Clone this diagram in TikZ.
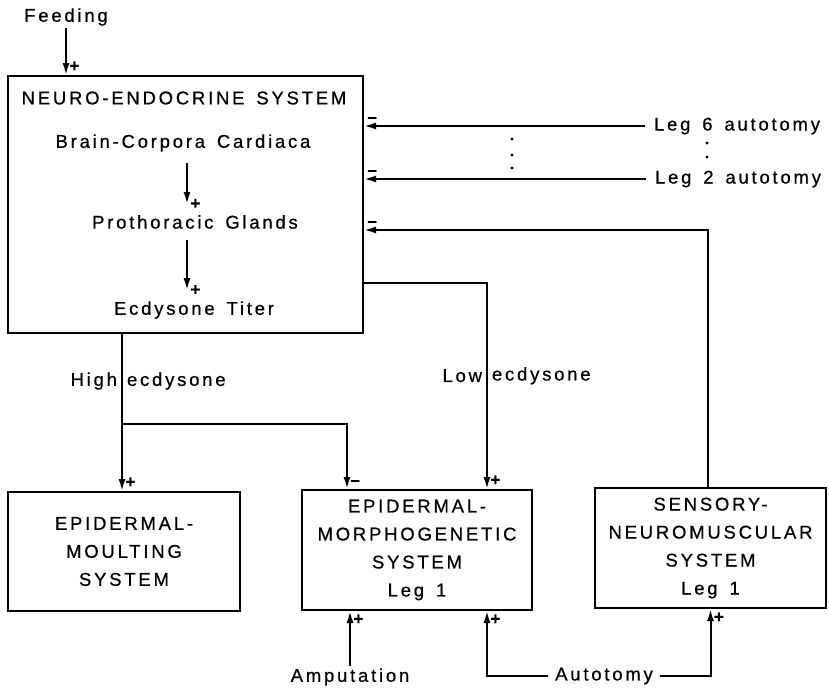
\documentclass[tikz,border=0pt]{standalone}
\usepackage{fontspec}
\setmainfont{Liberation Sans}[LetterSpace=15, WordSpace=1.5, FakeBold=0.6]
\usetikzlibrary{arrows.meta,positioning}
\tikzset{
  every node/.style={font=\fontsize{18.5}{28}\selectfont, inner sep=2pt},
  sysbox/.style={draw, line width=2pt, align=center, minimum width=231pt, minimum height=120pt},
  stage/.style={inner ysep=11pt},
  lbl/.style={inner xsep=4pt},
  arr/.style={-{Latex[length=12pt,width=7pt]}, line width=2pt},
  pm/.style={font=\fontsize{17}{17}\selectfont\bfseries, inner sep=2.5pt},
}

\begin{document}
\begin{tikzpicture}[x=1pt, y=-1pt]
\useasboundingbox (0,0) rectangle (829,689);

% neuro-endocrine system
\node[draw, line width=2pt, minimum width=355pt, minimum height=257pt] (nes) at (185.5,204.5) {};
\node (feed) at (66,17) {Feeding};
\node (title) at (184,98) {NEURO-ENDOCRINE SYSTEM};
\node[stage] (bcc) at (183,143) {Brain-Corpora Cardiaca};
\node[stage] (ptg) at (195,222) {Prothoracic Glands};
\node[stage] (ecd) at (194,310) {Ecdysone Titer};
\coordinate (axis) at (187,0);

% leg inputs
\node[inner xsep=9pt] (leg6) at (737,126) {Leg 6 autotomy};
\node[inner xsep=9pt] (leg2) at (738,179) {Leg 2 autotomy};

% target systems
\node[sysbox, minimum width=232pt, minimum height=119pt] (moult) at (124,551.5) {EPIDERMAL-\\MOULTING\\SYSTEM};
\node[sysbox, minimum width=230pt] (morph) at (417,550) {EPIDERMAL-\\MORPHOGENETIC\\SYSTEM\\Leg 1};
\node[sysbox] (sens) at (710.5,548) {SENSORY-\\NEUROMUSCULAR\\SYSTEM\\Leg 1};

\node (amp) at (350,677) {Amputation};
\node[inner xsep=7pt] (auto) at (604,676) {Autotomy};

\coordinate (fb) at (708,230);
\coordinate (lowx) at (487,283);
\coordinate (hi) at (122,424);

% connectors
\draw[arr] (feed) -- (feed |- nes.north) node[pm, anchor=south west] {+};
\draw[arr] (bcc.south -| axis) -- (ptg.north -| axis) node[pm, anchor=west] {+};
\draw[arr] (ptg.south -| axis) -- (ecd.north -| axis) node[pm, anchor=west] {+};

\draw[arr] (leg6) -- (leg6 -| nes.east) node[pm, anchor=south west] {\textendash};
\draw[arr] (leg2) -- (leg2 -| nes.east) node[pm, anchor=south west] {\textendash};
\draw[arr] (sens.north -| fb) -- (fb) -- (fb -| nes.east) node[pm, anchor=south west] {\textendash};
\foreach \y in {139,155,168} \fill (512,\y) circle (1.6pt);
\foreach \y in {143,157} \fill (707,\y) circle (1.6pt);

\draw[arr] (nes.south -| hi) -- node[lbl, pos=0.3, anchor=east] {High} node[lbl, pos=0.3, anchor=west] {ecdysone}
  (moult.north -| hi) node[pm, anchor=south west] {+};
\draw[arr] (hi) -| ([xshift=-70pt]morph.north) node[pm, anchor=south west] {\textendash};
\draw[arr] (nes.east |- lowx) -- (lowx) -- node[lbl, pos=0.45, anchor=east] {Low} node[lbl, pos=0.45, anchor=west] {ecdysone}
  (morph.north -| lowx) node[pm, anchor=south west] {+};

\draw[arr] (amp) -- (amp |- morph.south) node[pm, anchor=north west] {+};
\draw[arr] (auto) -| (morph.south -| lowx) node[pm, anchor=north west] {+};
\draw[arr] (auto) -| (sens.south) node[pm, anchor=north west] {+};

\end{tikzpicture}
\end{document}
